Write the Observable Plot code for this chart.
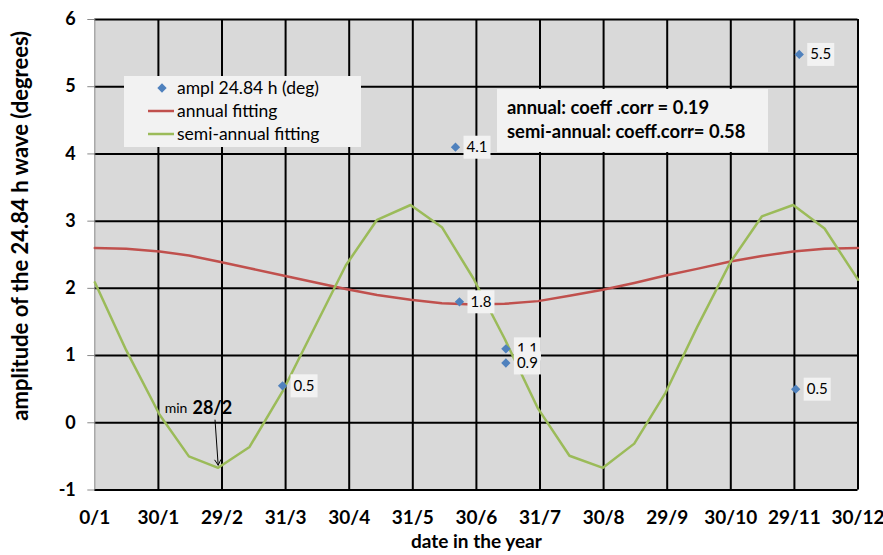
<!DOCTYPE html>
<html><head><meta charset="utf-8">
<script src="https://cdn.jsdelivr.net/npm/d3@7"></script>
<script src="https://cdn.jsdelivr.net/npm/@observablehq/plot@0.6"></script>
<style>body{margin:0;background:#fff;} svg{display:block}</style>
</head><body><div id="chart"></div>
<script>
// ---- data ----
const fitDays = [0,15,31,45,59,74,90,105,120,135,151,166,181,196,212,227,243,258,273,288,304,319,334,349,365];
const annualFit = [2.60,2.59,2.55,2.49,2.40,2.30,2.19,2.09,1.99,1.90,1.83,1.78,1.76,1.77,1.81,1.89,1.98,2.08,2.19,2.29,2.40,2.48,2.55,2.59,2.60];
const semiAnnualFit = [2.09,1.08,0.12,-0.50,-0.67,-0.36,0.48,1.41,2.34,3.02,3.24,2.91,2.15,1.25,0.21,-0.49,-0.67,-0.31,0.45,1.42,2.39,3.07,3.24,2.89,2.13];
const obsDays = [89.8,172.5,174.4,196.6,196.6,335.2,336.9];
const obsAmpl = [0.55,4.10,1.80,1.10,0.89,0.50,5.48];
const obsLabels = ["0.5","4.1","1.8","1.1","0.9","0.5","5.5"];
const xTickLabels = ["0/1","30/1","29/2","31/3","30/4","31/5","30/6","31/7","30/8","29/9","30/10","29/11","30/12"];
const yTicks = [-1,0,1,2,3,4,5,6];
const yTickLabels = ["-1","0","1","2","3","4","5","6"];
const legendLabels = ["ampl 24.84 h (deg)","annual fitting","semi-annual fitting"];
const corrLines = ["annual: coeff .corr = 0.19","semi-annual: coeff.corr= 0.58"];
const annotMin = "min";
const annotDate = "28/2";
const annotMinDay = 33.4;
const annotDateDay = 46.7;
const annotValue = 0.22;
const arrowFrom = [57.5,0.04];
const arrowTo = [59,-0.63];
const xTitle = "date in the year";
const yTitle = "amplitude of the 24.84 h wave (degrees)";

// ---- tables ----
const fits = fitDays.map((d,i)=>({day:d, annual:annualFit[i], semi:semiAnnualFit[i]}));
const obs = obsDays.map((d,i)=>({day:d, ampl:obsAmpl[i], label:obsLabels[i], i}));
const xTickPos = xTickLabels.map((_,i)=>i*365/12);

const BLUE="#4f81bd", RED="#c0504d", GREEN="#9bbb59", BOXFILL="#f2f2f2";
const labelBox = {draw(ctx){ ctx.rect(-13.5,-11.5,27,23); }};

const labelMarks = obs.flatMap(o => [
  Plot.dot([o], {x:"day", y:"ampl", symbol: labelBox, r:1, fill: BOXFILL, dx:21.5}),
  Plot.text([o], {x:"day", y:"ampl", text:"label", dx:21.5, fontSize:15, fill:"#000"})
]);

const svg = Plot.plot({
  width: 883, height: 555,
  marginLeft: 94.3, marginRight: 25.5, marginTop: 19, marginBottom: 65.5,
  style: {fontFamily: "Lato, sans-serif", background: "#fff", color: "#000"},
  x: {domain: [0,365]},
  y: {domain: [-1,6]},
  marks: [
    Plot.frame({fill: "#d9d9d9", stroke: null}),
    Plot.ruleY(yTicks, {stroke: "#000", strokeWidth: 2}),
    Plot.ruleX(xTickPos.slice(1), {stroke: "#000", strokeWidth: 2}),
    Plot.ruleX([0], {stroke: "#888", strokeWidth: 1}),
    Plot.axisY(yTicks, {tickSize: 7, stroke: "#888", tickPadding: 12, tickFormat: d => yTickLabels[yTicks.indexOf(d)], fontSize: 18, fontWeight: "bold", fill: "#000", label: null}),
    Plot.axisX(xTickPos, {tickSize: 0, tickPadding: 20, tickFormat: d => xTickLabels[Math.round(d*12/365)], fontSize: 19, fontWeight: "bold", fill: "#000", label: null}),
    Plot.text([xTitle], {frameAnchor: "bottom", dy: 57.5, fontSize: 19, fontWeight: "bold", fill: "#000"}),
    Plot.text([yTitle], {frameAnchor: "left", textAnchor: "middle", rotate: -90, dx: -74, dy: -29, fontSize: 22, fontWeight: "bold", fill: "#000"}),
    Plot.line(fits, {x: "day", y: "annual", stroke: RED, strokeWidth: 2.5}),
    Plot.line(fits, {x: "day", y: "semi", stroke: GREEN, strokeWidth: 2.5}),
    Plot.arrow([0], {x1: () => arrowFrom[0], y1: () => arrowFrom[1], x2: () => arrowTo[0], y2: () => arrowTo[1], stroke: "#000", strokeWidth: 1, headLength: 9}),
    Plot.text([annotMin], {x: () => annotMinDay, y: () => annotValue, textAnchor: "start", dy: 1, fontSize: 14, fill: "#000"}),
    Plot.text([annotDate], {x: () => annotDateDay, y: () => annotValue, textAnchor: "start", fontSize: 18, fontWeight: "bold", fill: "#000"}),
    Plot.dot(obs, {x: "day", y: "ampl", symbol: "diamond2", r: 4.2, fill: BLUE}),
    ...labelMarks
  ]
});

document.getElementById("chart").appendChild(svg);

// legend box
const s = d3.select(svg);
const lg = s.append("g").attr("font-family","Lato, sans-serif").attr("text-anchor","start");
lg.append("rect").attr("x",124).attr("y",76).attr("width",237).attr("height",71).attr("fill",BOXFILL);
const rowsY = [88,111,134];
lg.append("path").attr("d", d3.symbol(d3.symbolDiamond2, 4.2*4.2*Math.PI)()).attr("transform",`translate(162,${rowsY[0]})`).attr("fill",BLUE);
lg.append("line").attr("x1",148).attr("x2",174).attr("y1",rowsY[1]).attr("y2",rowsY[1]).attr("stroke",RED).attr("stroke-width",2.5);
lg.append("line").attr("x1",148).attr("x2",174).attr("y1",rowsY[2]).attr("y2",rowsY[2]).attr("stroke",GREEN).attr("stroke-width",2.5);
legendLabels.forEach((t,i)=>{
  lg.append("text").attr("x",177).attr("y",rowsY[i]).attr("dy","0.35em").attr("font-size",17.5).attr("font-weight","normal").text(t);
});
// correlation box
const cg = s.append("g").attr("font-family","Lato, sans-serif").attr("text-anchor","start");
cg.append("rect").attr("x",497).attr("y",89).attr("width",271).attr("height",63).attr("fill",BOXFILL);
corrLines.forEach((t,i)=>{
  cg.append("text").attr("x",507).attr("y",[114,137.5][i]).attr("font-size",18.4).attr("font-weight","bold").text(t);
});
</script>
</body></html>
